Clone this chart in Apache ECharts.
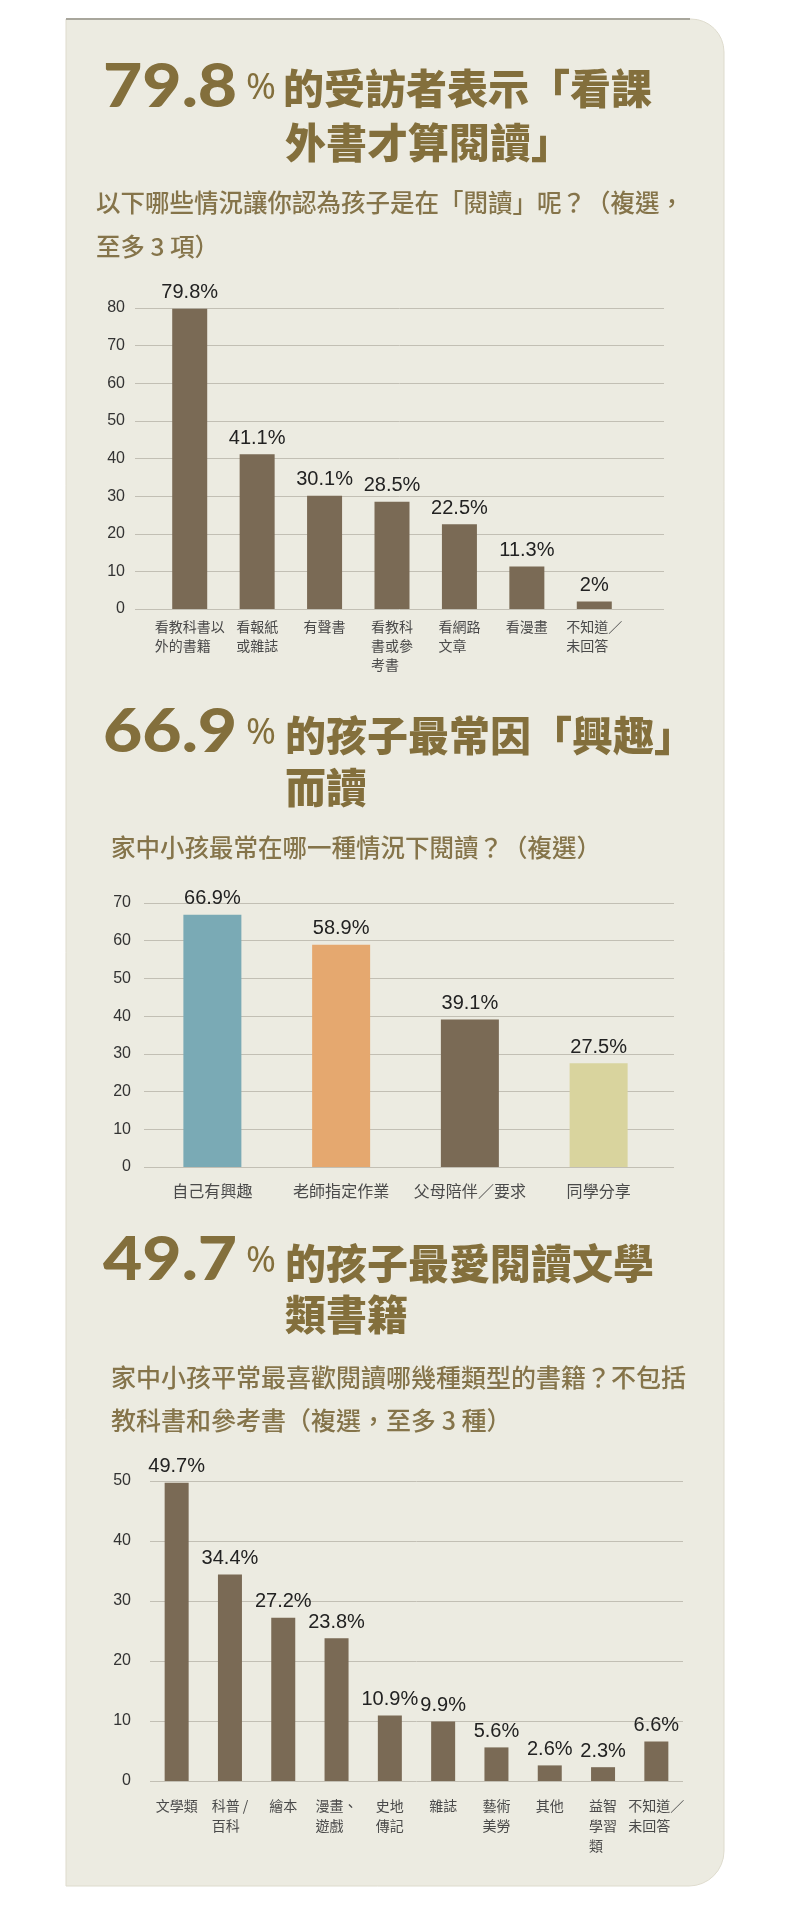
<!DOCTYPE html>
<html>
<head>
<meta charset="utf-8">
<script src="https://cdn.jsdelivr.net/npm/echarts/dist/echarts.min.js"></script>
<style>
  html, body { margin: 0; padding: 0; background: #ffffff; }
  #chart { width: 792px; height: 1905px; }
</style>
</head>
<body>
<div id="chart"></div>
<script>
// chart 1: 以下哪些情況讓你認為孩子是在「閱讀」呢？
var cat1 = ['看教科書以\n外的書籍', '看報紙\n或雜誌', '有聲書', '看教科\n書或參\n考書', '看網路\n文章', '看漫畫', '不知道／\n未回答'];
var val1 = [79.8, 41.1, 30.1, 28.5, 22.5, 11.3, 2];
var ticks1 = { max: 80, step: 10 };

// chart 2: 家中小孩最常在哪一種情況下閱讀？
var cat2 = ['自己有興趣', '老師指定作業', '父母陪伴／要求', '同學分享'];
var val2 = [66.9, 58.9, 39.1, 27.5];
var ticks2 = { max: 70, step: 10 };

// chart 3: 家中小孩平常最喜歡閱讀哪幾種類型的書籍？
var cat3 = ['文學類', '科普 /\n百科', '繪本', '漫畫、\n遊戲', '史地\n傳記', '雜誌', '藝術\n美勞', '其他', '益智\n學習\n類', '不知道／\n未回答'];
var val3 = [49.7, 34.4, 27.2, 23.8, 10.9, 9.9, 5.6, 2.6, 2.3, 6.6];
var ticks3 = { max: 50, step: 10 };

var pal2 = ['#7aaab5', '#e5a86f', '#7a6a55', '#d9d49e'];
var brown = '#7a6a55';
var gold = '#836f3c';
var subGold = '#85744a';
var numFont = '"Liberation Sans", Arial, "Noto Sans CJK TC", sans-serif';
var cjkFont = '"Noto Sans CJK TC", sans-serif';
var bigFont = 'Lato, "Noto Sans", sans-serif';

var myChart = echarts.init(document.getElementById('chart'), null, { renderer: 'canvas' });

// each line of a category label is left aligned inside a centred block
var leftLines = function (v) {
    return v.split('\n').map(function (s) { return '{a|' + s + '}'; }).join('\n');
};

var valueAxis = function (idx, t, margin, hidden) {
    return {
        gridIndex: idx, type: 'value', min: 0, max: t.max, interval: t.step,
        show: !hidden,
        axisLine: { show: false }, axisTick: { show: false },
        axisLabel: { fontSize: 16, color: '#333', margin: margin, fontFamily: numFont },
        splitLine: { show: !hidden, lineStyle: { color: '#c2bfb4', width: 1 } }
    };
};

var catAxis = function (idx, cats, size, lh, margin) {
    return {
        gridIndex: idx, type: 'category', data: cats,
        axisLine: { show: false }, axisTick: { show: false },
        axisLabel: {
            interval: 0, margin: margin, formatter: leftLines,
            rich: { a: { align: 'left', fontSize: size, lineHeight: lh, color: '#4a4a4a', fontFamily: cjkFont } }
        }
    };
};

var barLabel = {
    show: true, position: 'top', distance: 6, formatter: '{c}%',
    fontSize: 20, color: '#222', fontFamily: numFont
};

var headText = function (x, y, text, size, weight, fam, color, sx) {
    return {
        type: 'text', x: x, y: y, z: 5, scaleX: sx || 1,
        style: {
            text: text, fill: color, fontSize: size, fontWeight: weight,
            fontFamily: fam, align: 'left', verticalAlign: 'middle'
        }
    };
};

var option = {
    animation: false,
    graphic: [
        { type: 'rect', z: -10, shape: { x: 66, y: 19, width: 658, height: 1867, r: [0, 33, 35, 0] },
          style: { fill: '#ecebe1', stroke: '#dedbcd', lineWidth: 1 } },
        { type: 'line', z: -9, shape: { x1: 66, y1: 19, x2: 690, y2: 19 }, style: { stroke: '#a8a69c', lineWidth: 2 } },

        headText(103, 88, '79.8', 60, 900, bigFont, gold, 1.13),
        headText(246, 89, '%', 36, 400, '"Noto Sans", sans-serif', gold),
        headText(283, 88, '的受訪者表示「看課', 41, 900, cjkFont, gold),
        headText(285, 142, '外書才算閱讀」', 41, 900, cjkFont, gold),
        headText(96, 203, '以下哪些情況讓你認為孩子是在「閱讀」呢？（複選，', 24.5, 500, cjkFont, subGold),
        headText(96, 247, '至多 3 項）', 24.5, 500, cjkFont, subGold),

        headText(103, 733, '66.9', 60, 900, bigFont, gold, 1.13),
        headText(246, 734, '%', 36, 400, '"Noto Sans", sans-serif', gold),
        headText(285, 735, '的孩子最常因「興趣」', 41, 900, cjkFont, gold),
        headText(285, 787, '而讀', 41, 900, cjkFont, gold),
        headText(111, 848, '家中小孩最常在哪一種情況下閱讀？（複選）', 24.5, 500, cjkFont, subGold),

        headText(103, 1261, '49.7', 60, 900, bigFont, gold, 1.13),
        headText(246, 1262, '%', 36, 400, '"Noto Sans", sans-serif', gold),
        headText(285, 1263, '的孩子最愛閱讀文學', 41, 900, cjkFont, gold),
        headText(285, 1314, '類書籍', 41, 900, cjkFont, gold),
        headText(111, 1377, '家中小孩平常最喜歡閱讀哪幾種類型的書籍？不包括', 25, 500, cjkFont, subGold),
        headText(111, 1420, '教科書和參考書（複選，至多 3 種）', 25, 500, cjkFont, subGold)
    ],
    grid: [
        { left: 135, top: 308, width: 529, height: 301 },
        { left: 156, top: 308, width: 472, height: 301 },
        { left: 144, top: 903, width: 530, height: 264 },
        { left: 148, top: 903, width: 515, height: 264 },
        { left: 150, top: 1481, width: 533, height: 300 }
    ],
    xAxis: [
        { gridIndex: 0, type: 'category', data: [''], show: false },
        catAxis(1, cat1, 14, 19, 8),
        { gridIndex: 2, type: 'category', data: [''], show: false },
        catAxis(3, cat2, 16, 20, 14),
        catAxis(4, cat3, 14, 20, 15)
    ],
    yAxis: [
        valueAxis(0, ticks1, 10, false),
        valueAxis(1, ticks1, 10, true),
        valueAxis(2, ticks2, 13, false),
        valueAxis(3, ticks2, 13, true),
        valueAxis(4, ticks3, 19, false)
    ],
    series: [
        { type: 'bar', xAxisIndex: 1, yAxisIndex: 1, data: val1, barWidth: 35,
          itemStyle: { color: brown }, label: barLabel },
        { type: 'bar', xAxisIndex: 3, yAxisIndex: 3, data: val2, barWidth: 58,
          itemStyle: { color: function (p) { return pal2[p.dataIndex]; } }, label: barLabel },
        { type: 'bar', xAxisIndex: 4, yAxisIndex: 4, data: val3, barWidth: 24,
          itemStyle: { color: brown }, label: barLabel }
    ]
};

option && myChart.setOption(option);
window.onresize = function () {
    myChart.resize();
};
</script>
</body>
</html>
